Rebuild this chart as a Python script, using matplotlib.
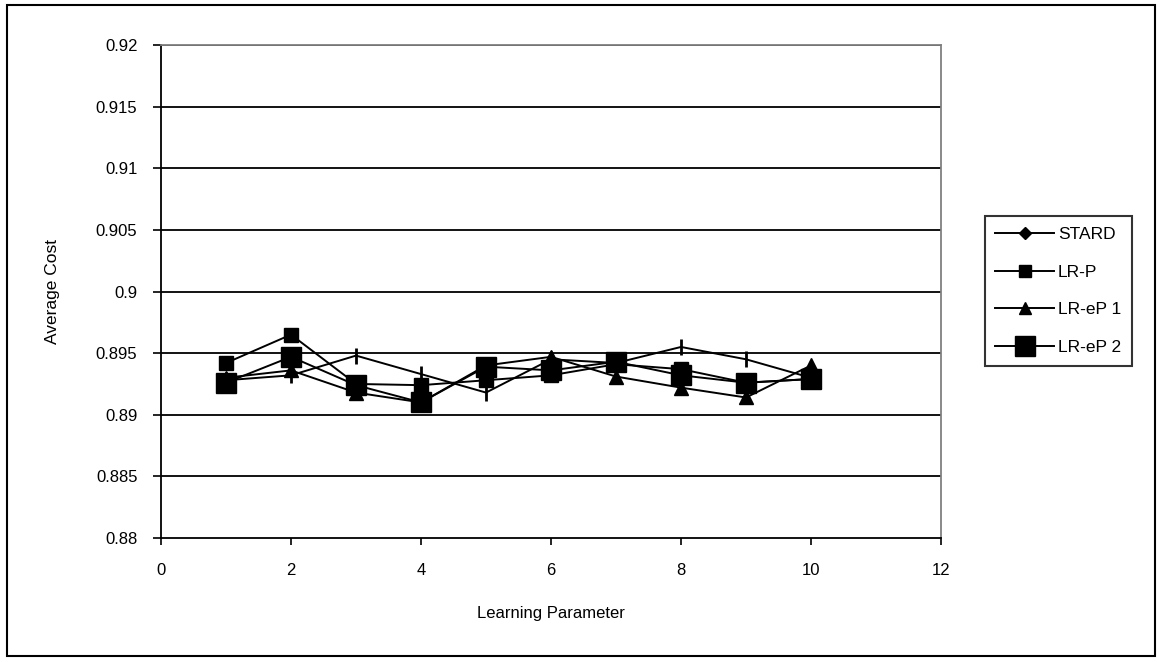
import numpy as np
import matplotlib.pyplot as plt
from matplotlib.lines import Line2D
from matplotlib.patches import Rectangle

plt.rcParams['font.family'] = ['Liberation Sans', 'DejaVu Sans']

# learning parameter values and average cost per method
learn_param = [1, 2, 3, 4, 5, 6, 7, 8, 9, 10]
stard    = [0.8928, 0.8932, 0.8948, 0.8933, 0.8918, 0.8945, 0.8942, 0.8955, 0.8945, 0.8930]
lr_p     = [0.8942, 0.8965, 0.8925, 0.8924, 0.8928, 0.8932, 0.8941, 0.8937, 0.8926, 0.8929]
lr_ep1   = [0.8930, 0.8936, 0.8918, 0.8910, 0.8940, 0.8947, 0.8931, 0.8922, 0.8914, 0.8940]
lr_ep2   = [0.8926, 0.8947, 0.8924, 0.8910, 0.8939, 0.8936, 0.8943, 0.8932, 0.8926, 0.8929]
series_names = ['STARD', 'LR-P', 'LR-eP 1', 'LR-eP 2']

W, H = 1162, 662
fig = plt.figure(figsize=(W / 100, H / 100), dpi=100)
ax = fig.add_axes([161 / W, 1 - 538 / H, (941 - 161) / W, (538 - 45) / H])

lw = 1.4
ax.plot(learn_param, stard, color='black', lw=lw, marker='|', ms=11, mew=2)
ax.plot(learn_param, lr_p, color='black', lw=lw, marker='s', ms=9.5)
ax.plot(learn_param, lr_ep1, color='black', lw=lw, marker='^', ms=9.5)
ax.plot(learn_param, lr_ep2, color='black', lw=lw, marker='s', ms=15)

ax.set_xlim(0, 12)
ax.set_ylim(0.88, 0.92)
ax.set_xticks(np.arange(0, 13, 2))
ax.set_yticks(np.arange(0.88, 0.9201, 0.005))
ax.set_yticklabels(['0.88', '0.885', '0.89', '0.895', '0.9', '0.905', '0.91', '0.915', '0.92'])

for y in np.arange(0.885, 0.9201, 0.005):
    ax.axhline(y, color='black', lw=1.3, zorder=0)

for side in ['top', 'right']:
    ax.spines[side].set_color('#808080')
    ax.spines[side].set_linewidth(1.3)
for side in ['left', 'bottom']:
    ax.spines[side].set_linewidth(1.3)

ax.tick_params(axis='y', direction='out', length=6, width=1.2, pad=11, labelsize=12)
ax.tick_params(axis='x', direction='out', length=5, width=1.2, pad=13, labelsize=12)

ax.set_xlabel('Learning Parameter', fontsize=12, labelpad=20)
ax.set_ylabel('Average Cost', fontsize=12.5, labelpad=26)

handles = [
    Line2D([], [], color='black', lw=lw, marker='D', ms=6),
    Line2D([], [], color='black', lw=lw, marker='s', ms=9),
    Line2D([], [], color='black', lw=lw, marker='^', ms=9),
    Line2D([], [], color='black', lw=lw, marker='s', ms=15),
]
leg = fig.legend(handles, series_names, loc='center left',
                 bbox_to_anchor=(985 / W, 1 - 291 / H), fontsize=12.5,
                 frameon=True, fancybox=False, edgecolor='black',
                 handlelength=3.4, handletextpad=0.2, labelspacing=1.3,
                 borderpad=0.6, borderaxespad=0)
leg.get_frame().set_linewidth(1.5)

# outer chart border
fig.add_artist(Rectangle((7 / W, 1 - 656 / H), (1155 - 7) / W, (656 - 5) / H,
                         transform=fig.transFigure, fill=False,
                         edgecolor='black', lw=1.5))

fig.savefig('out.png', dpi=100)
